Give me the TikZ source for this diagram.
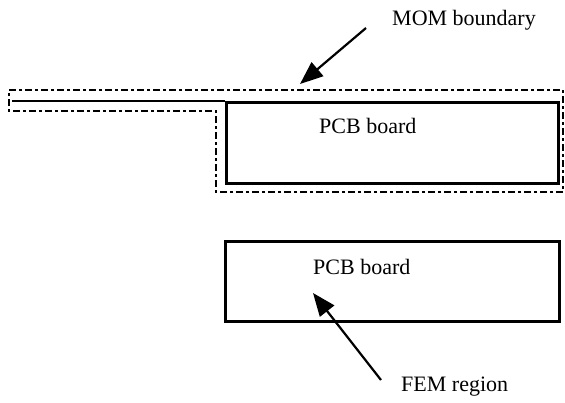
\documentclass[tikz,border=0pt]{standalone}
\usepackage{fontspec}
\setmainfont{Liberation Serif}
\usetikzlibrary{positioning,arrows.meta}

\tikzset{
  board/.style={draw,line width=2.6pt,inner sep=0pt},
  momline/.style={line width=2pt,dash pattern=on 7pt off 3pt on 3pt off 3pt},
  bigarrow/.style={line width=2.2pt,-{Triangle[length=23pt,width=18pt]}},
  lbl/.style={font=\fontsize{22}{26}\selectfont,inner sep=0pt,anchor=base west}
}

\begin{document}
\begin{tikzpicture}[x=1pt,y=-1pt]
	\useasboundingbox (0,0) rectangle (565,402);
	% MOM boundary (dashed)
	\draw[momline] (9,90) -- (563,90) -- (563,192) -- (216,192) -- (216,111) -- (9,111) -- cycle;
	% the two boards
	\node[board,minimum width=332pt,minimum height=81pt,anchor=north west] (pcbup) at (225,101) {};
	\node[board,minimum width=334pt,minimum height=80pt,anchor=north west] (pcbdown) at (224,240) {};
	\draw[line width=2.6pt] (12,101) -- (pcbup.north west);
	\node[lbl] (txtup) at (319,133) {PCB board};
	\node[lbl] (txtdown) at (313,274) {PCB board};
	% labels and arrows
	\node[lbl] (mom) at (392,25) {MOM boundary};
	\node[lbl] (fem) at (401,391) {FEM region};
	\coordinate (momtail) at (366,28);
	\coordinate (momtip) at (300,84);
	\coordinate (femtail) at (381,380);
	\coordinate (femtip) at (313,293);
	\draw[bigarrow] (momtail) -- (momtip);
	\draw[bigarrow] (femtail) -- (femtip);
\end{tikzpicture}
\end{document}
